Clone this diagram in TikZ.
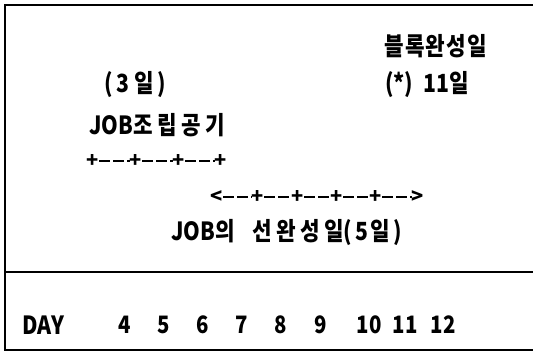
\documentclass[tikz,border=0pt]{standalone}
\usepackage{fontspec}
\usepackage{graphicx}
\setmainfont{Noto Sans CJK KR}
% condensed lettering with optional tracking
\newcommand\nrw[2][0]{\scalebox{0.85}[1]{\addfontfeature{LetterSpace=#1}#2}}
\begin{document}
\begin{tikzpicture}[x=1pt,y=-1pt,
  lbl/.style={inner sep=0pt,anchor=west,font=\fontsize{25}{27}\selectfont\bfseries},
  num/.style={inner sep=0pt,font=\fontsize{24}{26}\selectfont\bfseries},
  tick/.style={inner sep=0pt,font=\fontsize{20}{22}\selectfont\bfseries},
  seg/.style={line width=2.4pt,dash pattern=on 11pt off 3pt},
  frame/.style={line width=2pt}]
\useasboundingbox (0,0) rectangle (533,353);
% table frame
\draw[frame] (533,5) -- (5,5) -- (5,350) -- (533,350);
\draw[frame] (5,272) -- (533,272);
% labels
\node[lbl] (blk) at (384,46) {\nrw[6]{블록완성일}};
\node[lbl] (eleven) at (385,85) {\nrw{(*)\hspace{12pt}11일}};
\node[lbl] (three) at (104,85) {\nrw[20]{(3일)}};
\node[lbl] (asm) at (89,125) {\nrw{JOB}\nrw[22]{조립공기}};
\node[lbl] (pre) at (171,232) {\nrw{JOB의}\hspace{18pt}\nrw[20]{선완성일}\nrw[14]{(5일)}};
% assembly period scale
\foreach \i/\x in {0/93,1/136,2/179,3/221}
  \node[tick] (a\i) at (\x,161) {+};
\draw[seg] (a0) -- (a1);
\draw[seg] (a1) -- (a2);
\draw[seg] (a2) -- (a3);
% early completion scale
\node[tick] (bl) at (217,197) {<};
\foreach \i/\x in {1/258,2/298,3/337,4/376}
  \node[tick] (b\i) at (\x,197) {+};
\node[tick] (br) at (418,197) {>};
\draw[seg] (bl) -- (b1);
\draw[seg] (b1) -- (b2);
\draw[seg] (b2) -- (b3);
\draw[seg] (b3) -- (b4);
\draw[seg] (b4) -- (br);
% day row
\node[lbl] (day) at (22,325) {\nrw{DAY}};
\foreach \d/\x in {4/125,5/164,6/203,7/242,8/281,9/321,10/369,11/405,12/443}
  \node[num] (d\d) at (\x,325) {\nrw{\d}};
\end{tikzpicture}
\end{document}
